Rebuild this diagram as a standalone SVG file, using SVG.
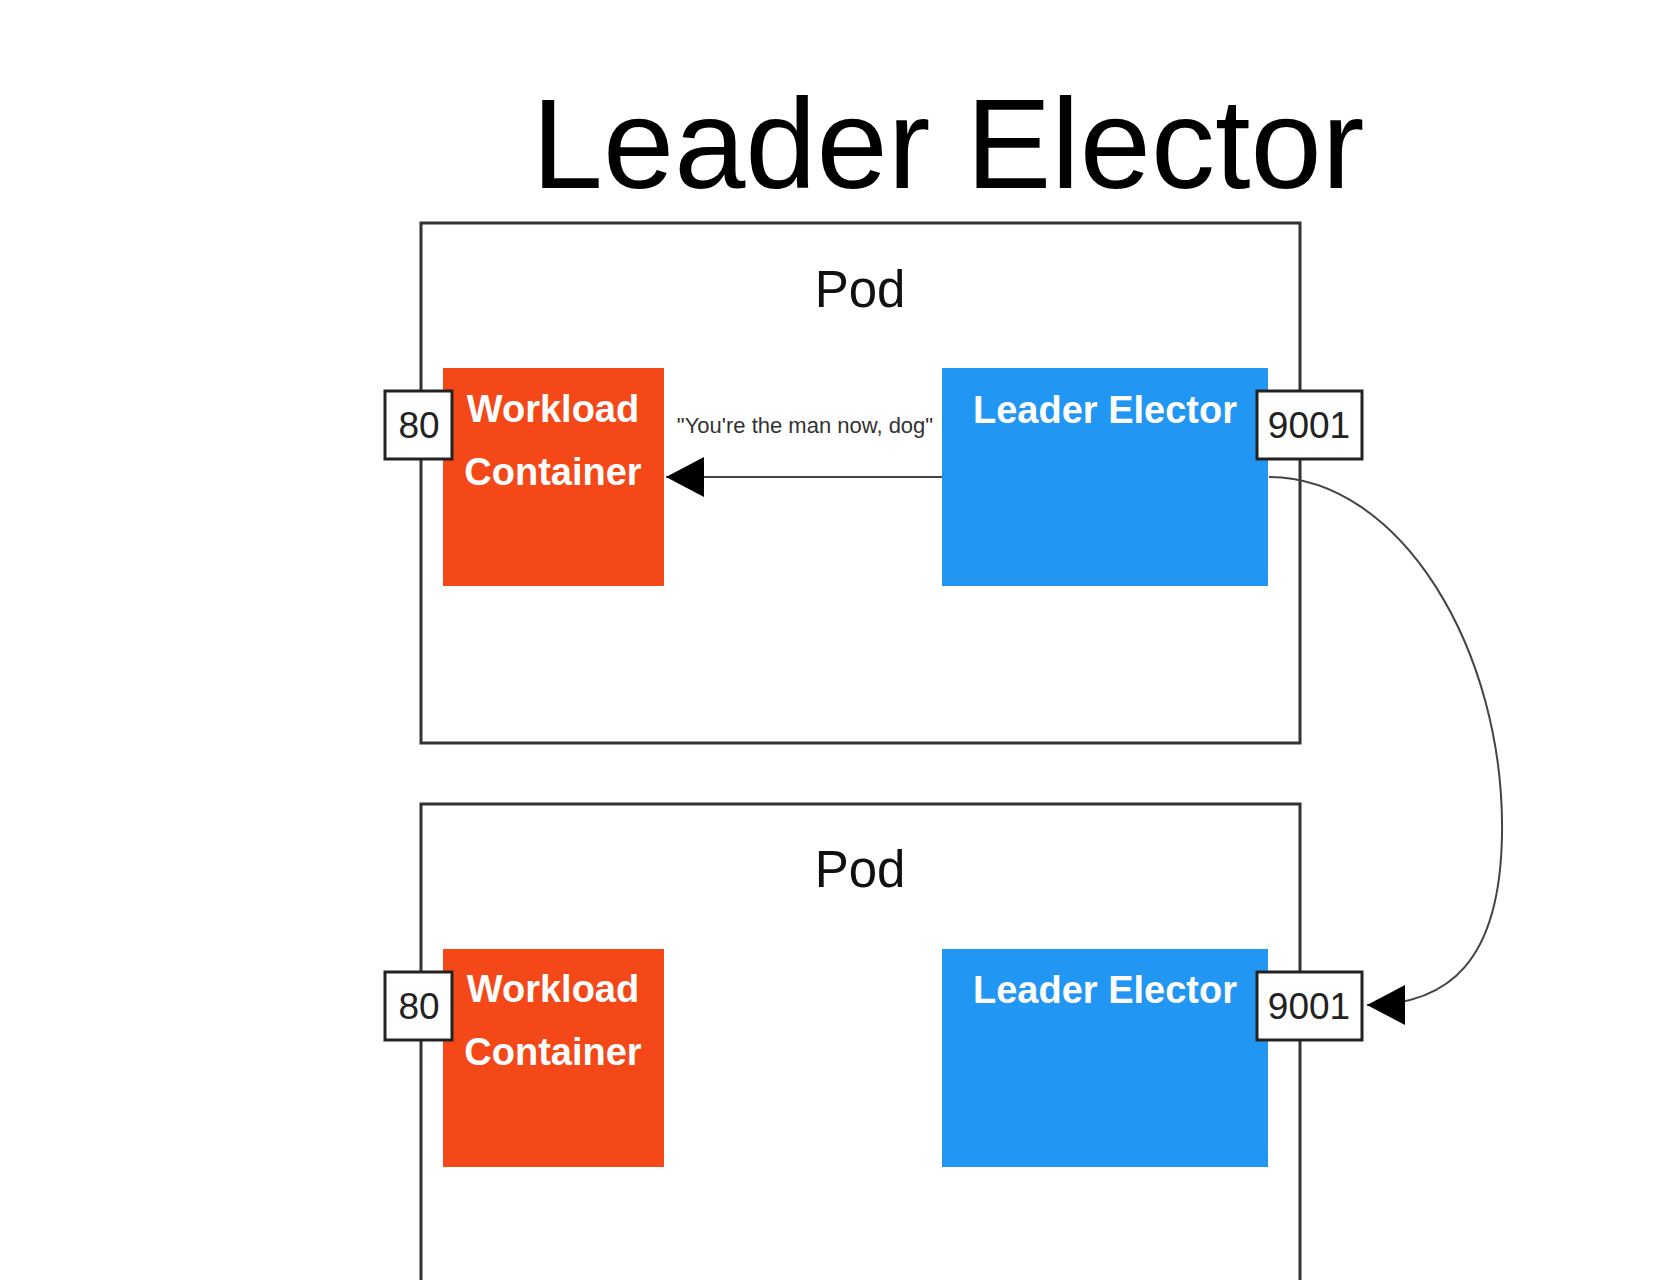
<svg xmlns="http://www.w3.org/2000/svg" width="1653" height="1280" viewBox="0 0 1653 1280">
<style>
  .title { font-family: "Liberation Sans", Arial, sans-serif; font-size: 128px; fill: #000; }
  .pod { fill: #fff; stroke: #333; stroke-width: 3; }
  .podlabel { font-family: "Liberation Sans", Arial, sans-serif; font-size: 51px; fill: #111; text-anchor: middle; }
  .workload { fill: #F44818; }
  .elector { fill: #2196F3; }
  .boxtext { font-family: "Liberation Sans", Arial, sans-serif; font-weight: bold; font-size: 38px; fill: #fff; text-anchor: middle; }
  .port { fill: #fff; stroke: #222; stroke-width: 3; }
  .porttext { font-family: "Liberation Sans", Arial, sans-serif; font-size: 37px; fill: #222; text-anchor: middle; }
  .edge { fill: none; stroke: #444; stroke-width: 2; }
  .edgelabel { font-family: "Liberation Sans", Arial, sans-serif; font-size: 22px; fill: #333; text-anchor: middle; }
</style>
<defs>
  <marker id="arrow" viewBox="0 0 38 40" refX="38" refY="20" markerWidth="38" markerHeight="40" markerUnits="userSpaceOnUse" orient="auto">
    <path d="M0,0 L38,20 L0,40 z" fill="#000"/>
  </marker>
</defs>
<rect width="1653" height="1280" fill="#fff"/>
<text id="title" class="title" x="948" y="188" text-anchor="middle">Leader Elector</text>

<g id="pod1">
  <rect class="pod" x="421" y="223" width="879" height="520"/>
  <text class="podlabel" x="860" y="307">Pod</text>
</g>
<g id="pod2">
  <rect class="pod" x="421" y="804" width="879" height="520"/>
  <text class="podlabel" x="860" y="887">Pod</text>
</g>

<g id="workload1">
  <rect class="workload" x="443" y="368" width="221" height="218"/>
  <text class="boxtext" x="553" y="422">Workload</text>
  <text class="boxtext" x="553" y="485">Container</text>
</g>
<g id="elector1">
  <rect class="elector" x="942" y="368" width="326" height="218"/>
  <text class="boxtext" x="1105" y="423">Leader Elector</text>
</g>
<g id="port80-1">
  <rect class="port" x="385" y="391" width="67" height="68"/>
  <text class="porttext" x="419" y="438">80</text>
</g>
<g id="port9001-1">
  <rect class="port" x="1257" y="391" width="105" height="68"/>
  <text class="porttext" x="1309" y="438">9001</text>
</g>

<g id="workload2">
  <rect class="workload" x="443" y="949" width="221" height="218"/>
  <text class="boxtext" x="553" y="1002">Workload</text>
  <text class="boxtext" x="553" y="1065">Container</text>
</g>
<g id="elector2">
  <rect class="elector" x="942" y="949" width="326" height="218"/>
  <text class="boxtext" x="1105" y="1003">Leader Elector</text>
</g>
<g id="port80-2">
  <rect class="port" x="385" y="972" width="67" height="68"/>
  <text class="porttext" x="419" y="1019">80</text>
</g>
<g id="port9001-2">
  <rect class="port" x="1257" y="972" width="105" height="68"/>
  <text class="porttext" x="1309" y="1019">9001</text>
</g>

<g id="connectors">
  <path class="edge" d="M942,477 L666,477" marker-end="url(#arrow)"/>
  <text class="edgelabel" x="805" y="433">"You're the man now, dog"</text>
  <path class="edge" d="M1269,477 C1400,477 1505,650 1502,835 C1500,960 1450,1005 1367,1005" marker-end="url(#arrow)"/>
</g>
</svg>
